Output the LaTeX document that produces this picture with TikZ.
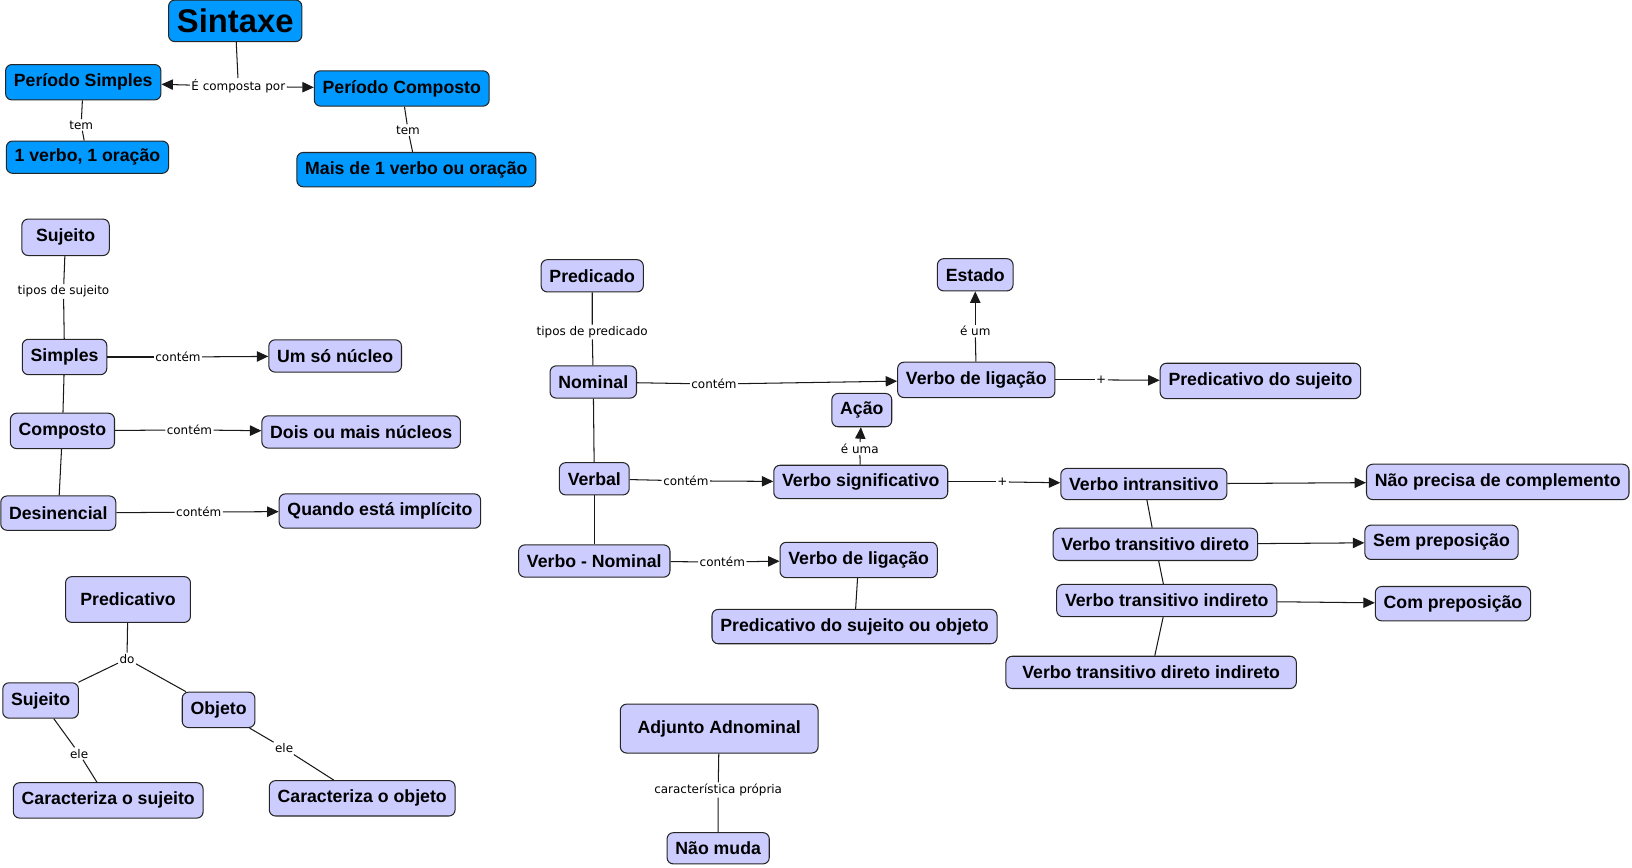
\documentclass[tikz,border=0pt]{standalone}
\usepackage{fontspec}
\setmainfont{Liberation Sans}
\newfontfamily\linkfont{DejaVu Sans}
\usetikzlibrary{arrows.meta}
\definecolor{conceptblue}{RGB}{0,153,255}
\definecolor{conceptlilac}{RGB}{204,204,255}
\tikzset{
  concept/.style={draw=black!85, fill=conceptlilac, rounded corners=6pt, inner xsep=8pt, inner ysep=0pt,
    minimum height=31pt, font=\fontsize{17}{19}\selectfont\bfseries},
  bluebox/.style={concept, fill=conceptblue},
  linklabel/.style={fill=white, inner sep=1pt, font=\linkfont\fontsize{11.5}{13}\selectfont},
  arr/.style={-{Triangle[length=11pt,width=10pt]}},
}

\begin{document}
\begin{tikzpicture}[x=1pt, y=-1pt, line width=1pt, draw=black!90]
  \useasboundingbox (0,0) rectangle (1568,833);

  % periodos
  \node [bluebox, minimum height=40pt, font=\fontsize{31.5}{34}\selectfont\bfseries] (sintaxe) at (226,20) {Sintaxe};
  \node [bluebox, minimum height=34pt] (psimples) at (80,79) {Período Simples};
  \node [bluebox, minimum height=34pt] (pcomposto) at (386,85) {Período Composto};
  \node [bluebox] (umverbo) at (84,151) {1 verbo, 1 oração};
  \node [bluebox, minimum height=33pt] (maisde) at (400,163) {Mais de 1 verbo ou oração};

  \node [linklabel] (lcomposta) at (229,83) {É composta por};
  \node [linklabel] (ltem1) at (78,120) {tem};
  \node [linklabel] (ltem2) at (392,125) {tem};

  \draw (sintaxe) -- (lcomposta);
  \draw [arr] (lcomposta) -- (psimples);
  \draw [arr] (lcomposta) -- (pcomposto);
  \draw (psimples) -- (ltem1) -- (umverbo);
  \draw (pcomposto) -- (ltem2) -- (maisde);

  % sujeito
  \node [concept, minimum width=84pt, minimum height=35pt] (sujeito) at (63,228) {Sujeito};
  \node [concept, minimum height=34pt] (simples) at (62,343) {Simples};
  \node [concept] (umso) at (322,342) {Um só núcleo};
  \node [concept, minimum height=34pt] (composto) at (60,414) {Composto};
  \node [concept] (dois) at (347,415) {Dois ou mais núcleos};
  \node [concept, minimum height=33pt] (desinencial) at (56,493) {Desinencial};
  \node [concept, minimum height=33pt] (quando) at (365,491) {Quando está implícito};

  \node [linklabel] (ltipossuj) at (61,280) {tipos de sujeito};
  \node [linklabel] (lcontem1) at (171,343) {contém};
  \node [linklabel] (lcontem2) at (182,413) {contém};
  \node [linklabel] (lcontem3) at (191,492) {contém};

  \draw (sujeito) -- (ltipossuj) -- (simples);
  \draw (simples) -- (composto);
  \draw (composto) -- (desinencial);
  \draw (simples) -- (lcontem1);
  \draw [arr] (lcontem1) -- (umso);
  \draw (composto) -- (lcontem2);
  \draw [arr] (lcontem2) -- (dois);
  \draw (desinencial) -- (lcontem3);
  \draw [arr] (lcontem3) -- (quando);

  % predicado
  \node [concept] (predicado) at (569,265) {Predicado};
  \node [concept] (nominal) at (570,367) {Nominal};
  \node [concept] (verbal) at (571,460) {Verbal};
  \node [concept] (verbonominal) at (571,539) {Verbo - Nominal};
  \node [concept, minimum height=34pt] (ligacao) at (938,365) {Verbo de ligação};
  \node [concept] (estado) at (937,264) {Estado};
  \node [concept, minimum height=34pt] (predsujeito) at (1211,366) {Predicativo do sujeito};
  \node [concept, minimum height=32pt] (acao) at (828,394) {Ação};
  \node [concept, minimum height=32pt] (signif) at (827,463) {Verbo significativo};
  \node [concept, minimum height=30pt] (intrans) at (1099,465) {Verbo intransitivo};
  \node [concept, minimum height=34pt] (naoprecisa) at (1439,463) {Não precisa de complemento};
  \node [concept] (transdir) at (1110,523) {Verbo transitivo direto};
  \node [concept, minimum height=33pt] (semprep) at (1385,521) {Sem preposição};
  \node [concept] (transind) at (1121,577) {Verbo transitivo indireto};
  \node [concept, minimum height=33pt] (comprep) at (1396,580) {Com preposição};
  \node [concept, minimum width=279pt] (transdirind) at (1106,646) {Verbo transitivo direto indireto};
  \node [concept, minimum height=34pt] (ligacaob) at (825,538) {Verbo de ligação};
  \node [concept, minimum height=33pt] (predsujobj) at (821,602) {Predicativo do sujeito ou objeto};

  \node [linklabel] (ltipospred) at (569,319) {tipos de predicado};
  \node [linklabel] (lcontem4) at (686,369) {contém};
  \node [linklabel] (leum) at (937,318) {é um};
  \node [linklabel] (lmais1) at (1058,365) {+};
  \node [linklabel] (lcontem5) at (659,462) {contém};
  \node [linklabel] (leuma) at (826,431) {é uma};
  \node [linklabel] (lmais2) at (963,463) {+};
  \node [linklabel] (lcontem6) at (694,540) {contém};

  \draw (predicado) -- (ltipospred) -- (nominal);
  \draw (nominal) -- (verbal);
  \draw (verbal) -- (verbonominal);
  \draw (nominal) -- (lcontem4);
  \draw [arr] (lcontem4) -- (ligacao);
  \draw (ligacao) -- (leum);
  \draw [arr] (leum) -- (estado);
  \draw (ligacao) -- (lmais1);
  \draw [arr] (lmais1) -- (predsujeito);
  \draw (verbal) -- (lcontem5);
  \draw [arr] (lcontem5) -- (signif);
  \draw (signif) -- (leuma);
  \draw [arr] (leuma) -- (acao);
  \draw (signif) -- (lmais2);
  \draw [arr] (lmais2) -- (intrans);
  \draw [arr] (intrans) -- (naoprecisa);
  \draw (intrans) -- (transdir);
  \draw [arr] (transdir) -- (semprep);
  \draw (transdir) -- (transind);
  \draw [arr] (transind) -- (comprep);
  \draw (transind) -- (transdirind);
  \draw (verbonominal) -- (lcontem6);
  \draw [arr] (lcontem6) -- (ligacaob);
  \draw (ligacaob) -- (predsujobj);

  % predicativo
  \node [concept, minimum width=120pt, minimum height=44pt] (predicativo) at (123,576) {Predicativo};
  \node [concept, minimum height=34pt] (sujeitob) at (39,673) {Sujeito};
  \node [concept, minimum height=34pt] (objeto) at (210,682) {Objeto};
  \node [concept, minimum height=34pt] (carsujeito) at (104,769) {Caracteriza o sujeito};
  \node [concept, minimum height=34pt] (carobjeto) at (348,767) {Caracteriza o objeto};

  \node [linklabel] (ldo) at (122,633) {do};
  \node [linklabel] (lele1) at (76,724) {ele};
  \node [linklabel] (lele2) at (273,719) {ele};

  \draw (predicativo) -- (ldo);
  \draw (ldo) -- (sujeitob);
  \draw (ldo) -- (objeto);
  \draw (sujeitob) -- (lele1) -- (carsujeito);
  \draw (objeto) -- (lele2) -- (carobjeto);

  % adjunto
  \node [concept, minimum width=190pt, minimum height=47pt] (adjunto) at (691,700) {Adjunto Adnominal};
  \node [concept, minimum height=30pt] (naomuda) at (690,815) {Não muda};
  \node [linklabel] (lcaract) at (690,759) {característica própria};

  \draw (adjunto) -- (lcaract) -- (naomuda);

\end{tikzpicture}
\end{document}
